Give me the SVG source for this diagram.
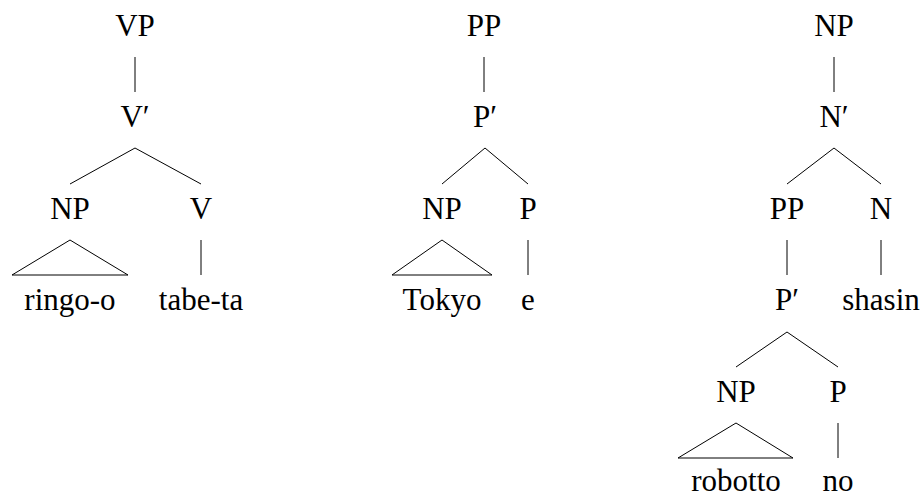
<svg xmlns="http://www.w3.org/2000/svg" width="924" height="497" viewBox="0 0 924 497">
<style>
.t text{font-size:31px;fill:#000;text-anchor:middle}
.e{stroke:#000;stroke-width:1;fill:none}
</style>
<rect width="924" height="497" fill="#fff"/>
<g id="connectors">
<line class="e" x1="135" y1="57" x2="135" y2="92"/>
<polyline class="e" points="70,184 135,148 201,184"/>
<polygon class="e" points="70,240 12,275 128,275"/>
<line class="e" x1="201" y1="240" x2="201" y2="275"/>
<line class="e" x1="484" y1="57" x2="484" y2="92"/>
<polyline class="e" points="442,184 485,148 528,184"/>
<polygon class="e" points="442,240 392,275 492,275"/>
<line class="e" x1="528" y1="240" x2="528" y2="275"/>
<line class="e" x1="834" y1="57" x2="834" y2="92"/>
<polyline class="e" points="787,184 834,148 881,184"/>
<line class="e" x1="787" y1="240" x2="787" y2="275"/>
<line class="e" x1="881" y1="240" x2="881" y2="275"/>
<polyline class="e" points="736,367 787,332 838,367"/>
<polygon class="e" points="736,423 678,458 793,458"/>
<line class="e" x1="838" y1="423" x2="838" y2="458"/>
</g>
<g class="t" font-family="Liberation Serif, DejaVu Serif, serif">
<g id="t1-VP"><text x="135" y="36">VP</text></g>
<g id="t1-Vbar"><text x="135" y="127">V′</text></g>
<g id="t1-NP"><text x="70" y="219">NP</text></g>
<g id="t1-V"><text x="201" y="219">V</text></g>
<g id="t1-ringo"><text x="70" y="310">ringo-o</text></g>
<g id="t1-tabeta"><text x="201" y="310">tabe-ta</text></g>
<g id="t2-PP"><text x="484" y="36">PP</text></g>
<g id="t2-Pbar"><text x="485" y="127">P′</text></g>
<g id="t2-NP"><text x="442" y="219">NP</text></g>
<g id="t2-P"><text x="528" y="219">P</text></g>
<g id="t2-Tokyo"><text x="442" y="310">Tokyo</text></g>
<g id="t2-e"><text x="528" y="310">e</text></g>
<g id="t3-NP"><text x="834" y="36">NP</text></g>
<g id="t3-Nbar"><text x="834" y="127">N′</text></g>
<g id="t3-PP"><text x="787" y="219">PP</text></g>
<g id="t3-N"><text x="881" y="219">N</text></g>
<g id="t3-Pbar"><text x="787" y="310">P′</text></g>
<g id="t3-shasin"><text x="881" y="310">shasin</text></g>
<g id="t3-NP2"><text x="736" y="402">NP</text></g>
<g id="t3-P"><text x="838" y="402">P</text></g>
<g id="t3-robotto"><text x="736" y="491">robotto</text></g>
<g id="t3-no"><text x="838" y="491">no</text></g>
</g>
</svg>
